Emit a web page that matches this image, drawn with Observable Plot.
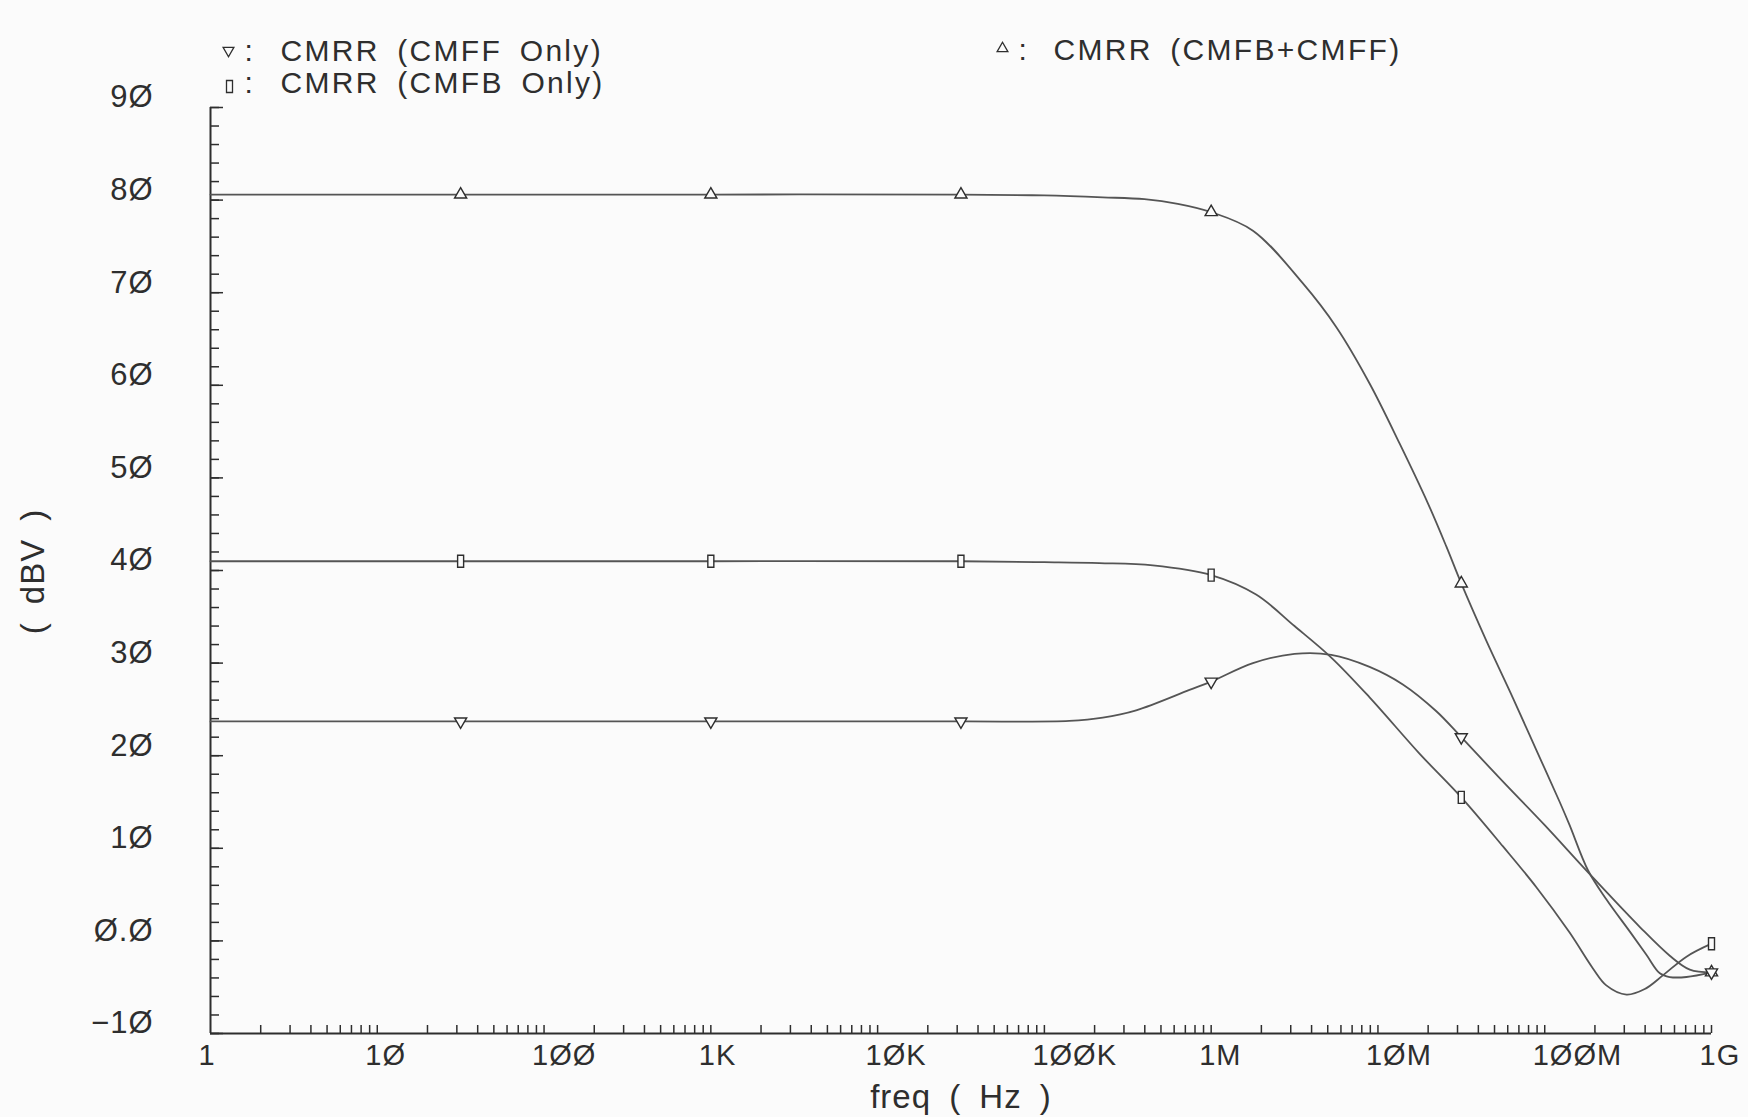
<!DOCTYPE html>
<html><head><meta charset="utf-8">
<script src="https://cdn.jsdelivr.net/npm/d3@7"></script>
<script src="https://cdn.jsdelivr.net/npm/@observablehq/plot@0.6"></script>
<style>
html,body{margin:0;padding:0;background:#fbfbfb;}
</style></head><body><div id="chart"></div>
<script>
// ---- Data (frequency in Hz, CMRR in dBV) ----
const seriesNames = ["CMRR (CMFB+CMFF)", "CMRR (CMFF Only)", "CMRR (CMFB Only)"];

const bothFreq = [1, 31.6, 1e3, 3.16e4, 1e5, 2.24e5, 3.98e5, 6.31e5, 1e6, 1.78e6, 3.55e6, 5.62e6, 8.91e6, 1.35e7, 2.0e7, 2.57e7, 3.16e7, 4.47e7, 6.46e7, 8.91e7, 1.23e8, 1.41e8, 1.82e8, 2.34e8, 3.24e8, 4.07e8, 4.9e8, 5.62e8, 7.08e8, 1e9];
const bothDb   = [80.6, 80.6, 80.6, 80.6, 80.5, 80.3, 80.1, 79.6, 78.7, 76.7, 71.0, 66.3, 60.2, 53.7, 47.2, 42.6, 38.6, 32.4, 26.2, 20.6, 15.0, 12.5, 7.6, 4.5, 1.0, -1.5, -3.5, -3.9, -3.9, -3.4];

const ffFreq = [1, 31.6, 1e3, 3.16e4, 1.41e5, 2.24e5, 3.55e5, 7.41e5, 1e6, 1.78e6, 3.16e6, 5.25e6, 8.91e6, 1.41e7, 2.24e7, 3.16e7, 5.62e7, 1e8, 1.82e8, 3.72e8, 5.62e8, 7.41e8, 1e9];
const ffDb   = [23.7, 23.7, 23.7, 23.7, 23.75, 24.1, 24.9, 27.1, 28.0, 30.0, 31.0, 30.9, 29.6, 27.7, 24.8, 22.0, 17.2, 12.5, 7.4, 1.5, -1.6, -3.1, -3.4];

const fbFreq = [1, 31.6, 1e3, 3.16e4, 1e5, 2.14e5, 4.47e5, 1e6, 1.86e6, 3.16e6, 5.25e6, 8.91e6, 1.78e7, 3.16e7, 5.62e7, 8.91e7, 1.41e8, 1.95e8, 2.34e8, 3.09e8, 3.98e8, 5.13e8, 7.08e8, 1e9];
const fbDb   = [41.0, 41.0, 41.0, 41.0, 40.9, 40.8, 40.55, 39.5, 37.4, 34.0, 30.6, 26.3, 20.2, 15.5, 10.2, 5.8, 0.9, -3.0, -4.8, -5.8, -5.2, -3.7, -1.7, -0.3];

const markerFreq = [31.6, 1e3, 3.16e4, 1e6, 3.16e7, 1e9];
const bothMarkerDb = [80.6, 80.6, 80.6, 78.7, 38.6, -3.4];
const ffMarkerDb   = [23.7, 23.7, 23.7, 28.0, 22.0, -3.4];
const fbMarkerDb   = [41.0, 41.0, 41.0, 39.5, 15.5, -0.3];

const yTickValues = [-10, 0, 10, 20, 30, 40, 50, 60, 70, 80, 90];
const yTickLabels = ["−1Ø", "Ø.Ø", "1Ø", "2Ø", "3Ø", "4Ø", "5Ø", "6Ø", "7Ø", "8Ø", "9Ø"];
const xTickValues = [1, 1e1, 1e2, 1e3, 1e4, 1e5, 1e6, 1e7, 1e8, 1e9];
const xTickLabels = ["1", "1Ø", "1ØØ", "1K", "1ØK", "1ØØK", "1M", "1ØM", "1ØØM", "1G"];

// ---- Build tables ----
const rows = (s, f, d) => f.map((v, i) => ({series: s, f: v, db: d[i]}));
const lineData = [
  ...rows(seriesNames[0], bothFreq, bothDb),
  ...rows(seriesNames[1], ffFreq, ffDb),
  ...rows(seriesNames[2], fbFreq, fbDb)
];
const mBoth = rows(seriesNames[0], markerFreq, bothMarkerDb);
const mFF = rows(seriesNames[1], markerFreq, ffMarkerDb);
const mFB = rows(seriesNames[2], markerFreq, fbMarkerDb);

// axis tick positions (inward ticks)
const yMinor = d3.range(-10, 91, 2);
const xMinor = [];
for (let e = 0; e < 9; e++) for (let k = 2; k <= 10; k++) xMinor.push(k * 10 ** e);

const W = 1748, H = 1117, mL = 210, mR = 37, mT = 107, mB = 84;
const plotW = W - mL - mR, plotH = H - mT - mB;
const ink = "#2e2e2e", lineInk = "#555", bg = "#fbfbfb";
const FS = 30;

const rectSymbol = {draw(ctx) { ctx.rect(-3, -6, 6, 12); }};

const chart = Plot.plot({
  width: W, height: H,
  marginLeft: mL, marginRight: mR, marginTop: mT, marginBottom: mB,
  style: {background: bg, fontFamily: "'Liberation Sans', Arial, sans-serif", color: ink, letterSpacing: "1px"},
  x: {type: "log", domain: [1, 1e9], axis: null},
  y: {domain: [-10, 90], axis: null},
  marks: [
    // inward ticks
    Plot.tickY(yMinor, {y: d => d, insetRight: plotW - 9, stroke: ink, strokeWidth: 1.5}),
    Plot.tickY(yTickValues, {y: d => d, insetRight: plotW - 13, stroke: ink, strokeWidth: 1.5}),
    Plot.tickX(xMinor, {x: d => d, insetTop: plotH - 8, stroke: ink, strokeWidth: 1.5}),
    // axis lines
    Plot.ruleX([1], {stroke: ink, strokeWidth: 2}),
    Plot.ruleY([-10], {stroke: ink, strokeWidth: 2}),
    // tick labels
    Plot.text(yTickValues, {y: d => d, text: (d, i) => yTickLabels[i], frameAnchor: "left", textAnchor: "end", lineAnchor: "middle", dx: -57, dy: -10, fontSize: 31, fill: ink}),
    Plot.text(xTickValues, {x: d => d, text: (d, i) => xTickLabels[i], frameAnchor: "bottom", textAnchor: "start", lineAnchor: "middle", dx: -12, dy: 22, fontSize: 29, fill: ink}),
    // axis titles
    Plot.text(["( dBV )"], {frameAnchor: "left", textAnchor: "middle", lineAnchor: "middle", rotate: -90, dx: -177, dy: 1, fontSize: 33, fill: ink}),
    Plot.text(["freq ( Hz )"], {frameAnchor: "bottom", textAnchor: "middle", lineAnchor: "middle", dy: 64, fontSize: 33, fill: ink}),
    // curves
    Plot.line(lineData, {x: "f", y: "db", z: "series", curve: "catmull-rom", stroke: lineInk, strokeWidth: 1.8}),
    // markers
    Plot.dot(mBoth, {x: "f", y: "db", symbol: "triangle", r: 4.5, stroke: ink, strokeWidth: 1.4, fill: bg}),
    Plot.dot(mFF, {x: "f", y: "db", symbol: "triangle", rotate: 180, r: 4.5, stroke: ink, strokeWidth: 1.4, fill: bg}),
    Plot.dot(mFB, {x: "f", y: "db", symbol: rectSymbol, stroke: ink, strokeWidth: 1.4, fill: bg}),
    // legend
    Plot.dot([seriesNames[1]], {frameAnchor: "top-left", dx: 18, dy: -57, symbol: "triangle", rotate: 180, r: 4, stroke: ink, strokeWidth: 1.3, fill: bg}),
    Plot.text([":"], {frameAnchor: "top-left", dx: 34, dy: -56, textAnchor: "start", lineAnchor: "middle", fontSize: FS, fill: ink}),
    Plot.text([seriesNames[1]], {frameAnchor: "top-left", dx: 70, dy: -56, textAnchor: "start", lineAnchor: "middle", fontSize: FS, fill: ink}),
    Plot.dot([seriesNames[2]], {frameAnchor: "top-left", dx: 19, dy: -21, symbol: rectSymbol, stroke: ink, strokeWidth: 1.3, fill: bg}),
    Plot.text([":"], {frameAnchor: "top-left", dx: 34, dy: -24, textAnchor: "start", lineAnchor: "middle", fontSize: FS, fill: ink}),
    Plot.text([seriesNames[2]], {frameAnchor: "top-left", dx: 70, dy: -24, textAnchor: "start", lineAnchor: "middle", fontSize: FS, fill: ink}),
    Plot.dot([seriesNames[0]], {frameAnchor: "top-left", dx: 792, dy: -59, symbol: "triangle", r: 4, stroke: ink, strokeWidth: 1.3, fill: bg}),
    Plot.text([":"], {frameAnchor: "top-left", dx: 808, dy: -57, textAnchor: "start", lineAnchor: "middle", fontSize: FS, fill: ink}),
    Plot.text([seriesNames[0]], {frameAnchor: "top-left", dx: 843, dy: -57, textAnchor: "start", lineAnchor: "middle", fontSize: FS, fill: ink})
  ]
});
// wider letter and word gaps in the legend entries and axis titles, as in the original plot window
d3.select(chart).selectAll("text")
  .filter(function() { return this.textContent.startsWith("CMRR"); })
  .style("letter-spacing", "2.3px")
  .style("word-spacing", "7px");
d3.select(chart).selectAll("text")
  .filter(function() { return this.textContent === "( dBV )" || this.textContent === "freq ( Hz )"; })
  .style("word-spacing", "8px");
document.getElementById("chart").appendChild(chart);
</script>
</body></html>
